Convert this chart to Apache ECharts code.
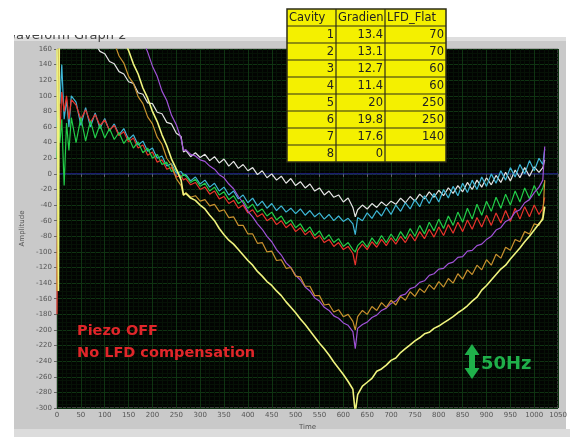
<!DOCTYPE html>
<html>
<head>
<meta charset="utf-8">
<script src="https://cdn.jsdelivr.net/npm/echarts@6/dist/echarts.min.js"></script>
<style>
html, body { margin: 0; padding: 0; background: #fff; }
#chart { width: 570px; height: 437px; }
</style>
</head>
<body>
<div id="chart"></div>
<script>
// sample times shared by all traces
var timeAxis = [
    0, 3, 6, 10, 15, 20, 25, 30,
    40, 50, 60, 70, 80, 90, 100, 110, 120, 130, 140, 150, 160, 170, 180, 190, 200, 210, 220, 230, 240, 250, 260,
    265,
    270, 280, 290, 300, 310, 320, 330, 340, 350, 360, 370, 380, 390, 400, 410, 420, 430, 440, 450, 460, 470, 480, 490, 500,
    510, 520, 530, 540, 550, 560, 570, 580, 590, 600, 610, 620,
    625,
    630, 640, 650, 660, 670, 680, 690, 700, 710, 720, 730, 740, 750, 760, 770, 780, 790, 800, 810, 820, 830, 840, 850, 860,
    870, 880, 890, 900, 910, 920, 930, 940, 950, 960, 970, 980, 990, 1000, 1010,
    1018, 1022
];

var whiteTrace = [
    120, 175, 230, 215, 212, 206, 203, 198,
    193, 183, 180, 170, 167, 157, 154, 144, 141, 131, 128, 118, 116, 104, 102, 91, 90, 79, 77, 66, 64, 52, 48,
    28,
    30, 22, 27, 21, 25, 17, 22, 14, 19, 10, 16, 7, 12, 4, 8, -1, 4, -5, 0, -8, -3, -12, -6, -15,
    -10, -18, -13, -22, -18, -27, -22, -30, -27, -36, -31, -43,
    -55,
    -46, -40, -45, -38, -43, -36, -41, -35, -39, -31, -37, -29, -35, -26, -32, -23, -30, -21, -28, -18, -25, -15, -23, -11,
    -20, -8, -17, -5, -14, -2, -11, 2, -9, 5, -5, 8, -3, 9, 2,
    8, 18
];

var cyanTrace = [
    60, 110, 90, 140, 70, 95, 60, 100,
    92, 62, 85, 60, 78, 58, 71, 55, 64, 50, 58, 44, 50, 37, 42, 29, 33, 20, 23, 10, 13, 1, 3,
    -2,
    -1, -9, -4, -13, -8, -17, -12, -22, -17, -27, -22, -32, -27, -37, -31, -41, -35, -44, -38, -47, -41, -49, -44, -51,
    -45, -53, -47, -55, -50, -58, -52, -60, -54, -61, -57, -64,
    -78,
    -56, -60, -50, -57, -47, -54, -43, -52, -40, -48, -37, -45, -33, -42, -28, -38, -25, -36, -20, -31, -16, -28, -12, -24,
    -8, -20, -4, -16, 0, -12, 4, -8, 8, -4, 12, 0, 17, 4, 20,
    12, 32
];

var redTrace = [
    -180, 110, 50, 105, 80, 100, 70, 95,
    88, 70, 82, 66, 76, 62, 69, 56, 62, 49, 54, 41, 46, 33, 37, 24, 28, 15, 18, 6, 8, -4, -2,
    -8,
    -6, -14, -11, -20, -17, -26, -22, -32, -29, -38, -34, -44, -40, -50, -46, -55, -51, -60, -56, -65, -60, -69, -64, -74,
    -69, -78, -73, -83, -79, -88, -84, -93, -88, -97, -93, -102,
    -117,
    -98, -90, -97, -87, -94, -84, -92, -82, -90, -80, -88, -77, -86, -74, -83, -71, -81, -68, -79, -65, -76, -62, -74, -59,
    -71, -56, -68, -53, -66, -50, -63, -47, -61, -44, -58, -42, -55, -40, -52,
    -44, -30
];

var greenTrace = [
    20, 80, 40, 70, -15, 65, 30, 72,
    40, 72, 42, 68, 46, 63, 46, 58, 44, 53, 39, 47, 33, 41, 27, 33, 20, 25, 12, 15, 3, 6, -5,
    0,
    -3, -11, -7, -16, -12, -22, -17, -27, -23, -33, -28, -38, -34, -44, -39, -49, -45, -54, -49, -59, -54, -64, -59, -69,
    -64, -74, -68, -79, -73, -84, -78, -88, -83, -93, -88, -97,
    -100,
    -92, -86, -94, -82, -90, -79, -88, -77, -86, -74, -83, -70, -80, -66, -77, -62, -73, -58, -70, -54, -66, -49, -62, -44,
    -58, -39, -53, -35, -48, -30, -44, -26, -40, -22, -36, -18, -32, -15, -28,
    -18, -10
];

var purpleTrace = [
    450, 447, 442, 436, 428, 421, 413, 405,
    389, 374, 358, 343, 327, 311, 296, 280, 265, 249, 233, 218, 202, 187, 171, 156, 138, 125, 106, 94, 75, 63, 45,
    30,
    31, 25, 23, 18, 16, 10, 6, -1, -5, -13, -19, -29, -37, -48, -55, -64, -71, -80, -87, -97, -104, -114, -120, -130,
    -136, -145, -150, -159, -163, -171, -175, -182, -185, -191, -194, -202,
    -224,
    -198, -193, -190, -184, -181, -175, -172, -166, -163, -156, -154, -147, -145, -139, -137, -130, -128, -122, -121, -115, -113, -107, -106, -99,
    -98, -92, -90, -84, -80, -72, -69, -61, -58, -49, -46, -37, -33, -24, -17,
    -8, 35
];

var orangeTrace = [
    -150, 110, 321, 311, 304, 298, 291, 284,
    271, 258, 245, 232, 219, 206, 193, 180, 168, 151, 142, 125, 116, 99, 90, 73, 64, 47, 38, 20, 11, -6, -15,
    -28,
    -24, -30, -28, -35, -33, -41, -39, -48, -46, -56, -55, -66, -66, -77, -77, -89, -88, -100, -99, -111, -110, -121, -120, -131,
    -132, -144, -144, -156, -156, -168, -167, -177, -174, -183, -180, -189,
    -200,
    -183, -175, -180, -170, -175, -165, -171, -162, -168, -157, -162, -151, -157, -147, -152, -142, -148, -138, -145, -134, -140, -128, -135, -123,
    -129, -117, -123, -110, -117, -103, -108, -94, -98, -84, -87, -74, -77, -64, -66,
    -55, -8
];

var yellowTrace = [
    160, -150, 380, 370, 362, 355, 347, 339,
    324, 309, 294, 279, 263, 248, 233, 218, 203, 187, 172, 158, 141, 128, 110, 97, 80, 67, 50, 36, 19, 6, -8,
    -27,
    -25, -31, -34, -40, -45, -53, -60, -70, -78, -85, -90, -97, -104, -111, -117, -125, -131, -138, -143, -150, -156, -164, -171, -178,
    -186, -193, -201, -209, -217, -224, -232, -241, -249, -257, -266, -276,
    -306,
    -283, -272, -267, -262, -253, -250, -245, -239, -236, -229, -224, -219, -214, -210, -205, -203, -198, -195, -191, -187, -183, -178, -174, -169,
    -163, -158, -149, -143, -136, -129, -122, -117, -109, -102, -95, -87, -80, -72, -64,
    -58, -42
];

// cavity 8 (gradient 0) stays on zero
var zeroTime = [0, 1050];
var zeroTrace = [0, 0];

// table next to the graph
var tableHeader = ['Cavity', 'Gradient', 'LFD_Flat'];
var cavityNo = ['1', '2', '3', '4', '5', '6', '7', '8'];
var cavityGradient = ['13.4', '13.1', '12.7', '11.4', '20', '19.8', '17.6', '0'];
var cavityLfdFlat = ['70', '70', '60', '60', '250', '250', '140', ''];

function pairs(xs, ys) {
    var out = [];
    for (var i = 0; i < xs.length; i++) {
        out.push([xs[i], ys[i]]);
    }
    return out;
}

function lineSeries(name, ys, color, xs, width) {
    return {
        name: name,
        type: 'line',
        data: pairs(xs || timeAxis, ys),
        showSymbol: false,
        symbol: 'none',
        lineStyle: { color: color, width: width || 1.2 },
        itemStyle: { color: color },
        emphasis: { disabled: true },
        clip: true
    };
}

/**
 * yellow table drawn with graphic elements
 */
function buildTable() {
    var x0 = 287, y0 = 9, rowH = 17;
    var colX = [287, 336, 385, 446];
    var els = [];
    var rows = cavityNo.length + 1;
    els.push({
        type: 'rect',
        shape: { x: x0, y: y0, width: colX[3] - x0, height: rows * rowH },
        style: { fill: '#f4f000', stroke: '#2c2c18', lineWidth: 1.5 },
        z: 100
    });
    for (var r = 1; r < rows; r++) {
        els.push({
            type: 'line',
            shape: { x1: x0, y1: y0 + r * rowH, x2: colX[3], y2: y0 + r * rowH },
            style: { stroke: '#2c2c18', lineWidth: 1.2 },
            z: 101
        });
    }
    for (var c = 1; c < 3; c++) {
        els.push({
            type: 'line',
            shape: { x1: colX[c], y1: y0, x2: colX[c], y2: y0 + rows * rowH },
            style: { stroke: '#2c2c18', lineWidth: 1.2 },
            z: 101
        });
    }
    var font = '11.5px "DejaVu Sans", sans-serif';
    for (var h = 0; h < 3; h++) {
        els.push({
            type: 'text',
            x: colX[h] + 2,
            y: y0 + rowH / 2 + 0.5,
            style: {
                text: tableHeader[h], font: font, fill: '#222',
                verticalAlign: 'middle', width: colX[h + 1] - colX[h] - 2,
                overflow: 'truncate', ellipsis: ''
            },
            z: 102
        });
    }
    var cols = [cavityNo, cavityGradient, cavityLfdFlat];
    for (var i = 0; i < cavityNo.length; i++) {
        for (var k = 0; k < 3; k++) {
            els.push({
                type: 'text',
                x: colX[k + 1] - 2,
                y: y0 + (i + 1) * rowH + rowH / 2 + 0.5,
                style: {
                    text: cols[k][i], font: font, fill: '#222',
                    align: 'right', verticalAlign: 'middle'
                },
                z: 102
            });
        }
    }
    return els;
}

var chartDom = document.getElementById('chart');
var myChart = echarts.init(chartDom, null, { renderer: 'canvas' });

var graphics = [
    // gray panel
    { type: 'rect', shape: { x: 14, y: 37, width: 552, height: 392 }, style: { fill: '#c9c9c9' }, z: -10 },
    { type: 'rect', shape: { x: 14, y: 429, width: 556, height: 8 }, style: { fill: '#dcdcdc' }, z: -10 },
    { type: 'rect', shape: { x: 14, y: 37, width: 552, height: 4 }, style: { fill: '#dedede' }, z: -9 },
    // clipped panel title
    {
        type: 'text', x: 4, y: 42,
        style: { text: 'Waveform Graph 2', font: '13px "DejaVu Sans", sans-serif', fill: '#444', verticalAlign: 'bottom' },
        z: 5
    },
    { type: 'rect', shape: { x: 0, y: 0, width: 570, height: 35 }, style: { fill: '#ffffff' }, z: 6 },
    { type: 'rect', shape: { x: 0, y: 0, width: 14, height: 437 }, style: { fill: '#ffffff' }, z: 6 },
    // annotations
    {
        type: 'text', x: 77, y: 331,
        style: { text: 'Piezo OFF', font: 'bold 14.5px "DejaVu Sans", sans-serif', fill: '#e0262a', verticalAlign: 'middle' },
        z: 50
    },
    {
        type: 'text', x: 77, y: 353,
        style: { text: 'No LFD compensation', font: 'bold 14.5px "DejaVu Sans", sans-serif', fill: '#e0262a', verticalAlign: 'middle' },
        z: 50
    },
    {
        type: 'polygon',
        shape: { points: [[472, 344], [479.5, 355], [475, 355], [475, 368], [479.5, 368], [472, 379], [464.5, 368], [469, 368], [469, 355], [464.5, 355]] },
        style: { fill: '#1fb04a' },
        z: 50
    },
    {
        type: 'text', x: 481, y: 364,
        style: { text: '50Hz', font: 'bold 18px "DejaVu Sans", sans-serif', fill: '#1fb04a', verticalAlign: 'middle' },
        z: 50
    }
].concat(buildTable());

var option = {
    animation: false,
    backgroundColor: '#ffffff',
    graphic: { elements: graphics },
    grid: {
        left: 57, top: 49, width: 504, height: 359,
        show: true, backgroundColor: '#020402', borderColor: '#7a7a7a', borderWidth: 1
    },
    xAxis: {
        type: 'value',
        min: 0, max: 1050, interval: 50,
        name: 'Time', nameLocation: 'middle', nameGap: 14,
        nameTextStyle: { fontSize: 7, color: '#555', fontFamily: 'DejaVu Sans' },
        axisLine: { show: false },
        axisTick: { show: true, length: 3, lineStyle: { color: '#666' } },
        axisLabel: {
            fontSize: 7, color: '#555', margin: 4, fontFamily: 'DejaVu Sans',
            formatter: function (v) { return String(v); }
        },
        splitLine: { show: true, lineStyle: { color: '#0f3412', width: 1 } },
        minorTick: { show: false, splitNumber: 5 },
        minorSplitLine: { show: true, lineStyle: { color: '#061206', width: 1 } }
    },
    yAxis: {
        type: 'value',
        min: -300, max: 160, interval: 20,
        name: 'Amplitude', nameLocation: 'middle', nameGap: 27, nameRotate: 90,
        nameTextStyle: { fontSize: 7, color: '#555', fontFamily: 'DejaVu Sans' },
        axisLine: { show: false },
        axisTick: { show: true, length: 3, lineStyle: { color: '#666' } },
        axisLabel: { fontSize: 7, color: '#555', margin: 5, fontFamily: 'DejaVu Sans' },
        splitLine: { show: true, lineStyle: { color: '#0f3412', width: 1 } },
        minorTick: { show: false, splitNumber: 4 },
        minorSplitLine: { show: true, lineStyle: { color: '#061206', width: 1 } }
    },
    series: [
        lineSeries('Cavity 8', zeroTrace, '#2a2aa8', zeroTime, 1),
        lineSeries('White', whiteTrace, '#e4e4e4'),
        lineSeries('Cyan', cyanTrace, '#3eb6d6'),
        lineSeries('Red', redTrace, '#e8332c'),
        lineSeries('Green', greenTrace, '#22cc48'),
        lineSeries('Purple', purpleTrace, '#a052d8'),
        lineSeries('Orange', orangeTrace, '#c8912e'),
        lineSeries('Yellow', yellowTrace, '#f0f47e', null, 1.6)
    ]
};

myChart.setOption(option);
</script>
</body>
</html>
